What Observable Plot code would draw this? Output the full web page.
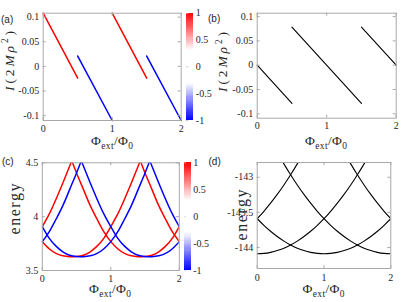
<!DOCTYPE html>
<html><head><meta charset="utf-8">
<script src="https://cdn.jsdelivr.net/npm/d3@7"></script>
<script src="https://cdn.jsdelivr.net/npm/@observablehq/plot@0.6"></script>
<style>
html,body{margin:0;padding:0;background:#fff;overflow:hidden;}
#fig{position:relative;width:415px;height:302px;overflow:hidden;background:#fff;}
#fig svg{position:absolute;left:0;top:0;}
#fig svg text{font-family:'Liberation Serif','DejaVu Serif',serif !important;}
</style></head><body><div id="fig"></div>
<script>
// ---------- data ----------
const fluxTicks = [0, 1, 2];
const currentTicks = [-0.1, -0.05, 0, 0.05, 0.1];
const energyTicksC = [3.5, 4, 4.5];
const energyTicksD = [-144, -143.5, -143];
const parityTicks = [-1, -0.5, 0, 0.5, 1];

// (a) current branches, coloured by parity
const currentA_flux = [[0, 0.5], [0.5, 1], [1, 1.5], [1.5, 2]];
const currentA_I = [[0.108, -0.024], [0.021, -0.11], [0.108, -0.024], [0.021, -0.11]];
const currentA_parity = [1, -1, 1, -1];

// (b) current branches
const currentB_flux = [[0, 0.5], [0.5, 1.5], [1.5, 2]];
const currentB_I = [[0, -0.0785], [0.0785, -0.0785], [0.0785, 0]];

// (c) energy bands, sampled on a flux grid
const fluxGrid = [0, 0.1, 0.2, 0.3, 0.4, 0.5, 0.6, 0.7, 0.8, 0.9, 1.0, 1.1, 1.2, 1.3, 1.4, 1.5, 1.6, 1.7, 1.8, 1.9, 2.0];
const _ = null;
const energyRedM1 = [3.907, 4.023, 4.162, 4.313, 4.470, 4.633, 4.80, _, _, _, _, _, _, _, _, _, _, _, _, _, _];
const energyRed0 = [3.768, 3.702, 3.659, 3.636, 3.628, 3.630, 3.642, 3.674, 3.726, 3.800, 3.907, 4.023, 4.162, 4.313, 4.470, 4.633, 4.80, _, _, _, _];
const energyRed1 = [_, _, 4.90, 4.73, 4.568, 4.406, 4.253, 4.102, 3.976, 3.858, 3.768, 3.702, 3.659, 3.636, 3.628, 3.630, 3.642, 3.674, 3.726, 3.800, 3.907];
const energyRed2 = [_, _, _, _, _, _, _, _, _, _, _, _, 4.90, 4.73, 4.568, 4.406, 4.253, 4.102, 3.976, 3.858, 3.768];
const energyBlueM1 = [3.768, 3.858, 3.976, 4.102, 4.253, 4.406, 4.568, 4.73, 4.90, _, _, _, _, _, _, _, _, _, _, _, _];
const energyBlue0 = [3.907, 3.800, 3.726, 3.674, 3.642, 3.630, 3.628, 3.636, 3.659, 3.702, 3.768, 3.858, 3.976, 4.102, 4.253, 4.406, 4.568, 4.73, 4.90, _, _];
const energyBlue1 = [_, _, _, _, 4.80, 4.633, 4.470, 4.313, 4.162, 4.023, 3.907, 3.800, 3.726, 3.674, 3.642, 3.630, 3.628, 3.636, 3.659, 3.702, 3.768];
const energyBlue2 = [_, _, _, _, _, _, _, _, _, _, _, _, _, _, 4.80, 4.633, 4.470, 4.313, 4.162, 4.023, 3.907];

// (d) energy bands
const energyDM1 = [-143.59, -143.485, -143.37, -143.245, -143.11, -142.965, -142.81, -142.645, _, _, _, _, _, _, _, _, _, _, _, _, _];
const energyD0 = [-144.09, -144.085, -144.07, -144.045, -144.01, -143.965, -143.91, -143.845, -143.77, -143.685, -143.59, -143.485, -143.37, -143.245, -143.11, -142.965, -142.81, -142.645, _, _, _];
const energyD1 = [-143.59, -143.685, -143.77, -143.845, -143.91, -143.965, -144.01, -144.045, -144.07, -144.085, -144.09, -144.085, -144.07, -144.045, -144.01, -143.965, -143.91, -143.845, -143.77, -143.685, -143.59];
const energyD2 = [_, _, _, -142.645, -142.81, -142.965, -143.11, -143.245, -143.37, -143.485, -143.59, -143.685, -143.77, -143.845, -143.91, -143.965, -144.01, -144.045, -144.07, -144.085, -144.09];
const energyD3 = [_, _, _, _, _, _, _, _, _, _, _, _, _, -142.645, -142.81, -142.965, -143.11, -143.245, -143.37, -143.485, -143.59];

// colour map (blue - white - red)
const parityDomain = [-1, -0.3, 0.3, 1];
const parityColors = ["#0000ff", "#ffffff", "#ffffff", "#ff0000"];

// ---------- build tables ----------
const rowsA = currentA_flux.flatMap((fx, i) => fx.map((x, j) => ({x, y: currentA_I[i][j], seg: i, parity: currentA_parity[i]})));
const rowsB = currentB_flux.flatMap((fx, i) => fx.map((x, j) => ({x, y: currentB_I[i][j], seg: i})));
function gridRows(series) {
  return series.flatMap(([name, vals, parity]) =>
    vals.map((y, i) => ({x: fluxGrid[i], y, curve: name, parity})).filter(d => d.y !== null));
}
const rowsCRed = gridRows([["rm1", energyRedM1, 1], ["r0", energyRed0, 1], ["r1", energyRed1, 1], ["r2", energyRed2, 1]]);
const rowsCBlue = gridRows([["bm1", energyBlueM1, -1], ["b0", energyBlue0, -1], ["b1", energyBlue1, -1], ["b2", energyBlue2, -1]]);
const rowsD = gridRows([["dm1", energyDM1, 0], ["d0", energyD0, 0], ["d1", energyD1, 0], ["d2", energyD2, 0], ["d3", energyD3, 0]]);
const cbStops = d3.range(-1, 1, 0.02);

// ---------- layout ----------
const W = 415, H = 302;
const GRAY = "#a8a8a8", INK = "#262626";
const SERIF = "'Liberation Serif', 'DejaVu Serif', serif";
const fmt = d => String(d);
const colorScale = {type: "linear", domain: parityDomain, range: parityColors, interpolate: "rgb"};
const baseStyle = {background: "transparent", fontFamily: SERIF, fontSize: "10px", color: INK, overflow: "visible"};

function panel({frame: [x0, x1, y0, y1], xDomain, yDomain, yTicks, marks, yPad = 4, xPad = 4}) {
  const fw = x1 - x0, fh = y1 - y0;
  return Plot.plot({
    width: W, height: H,
    marginLeft: x0, marginRight: W - x1, marginTop: y0, marginBottom: H - y1,
    x: {domain: xDomain, ticks: fluxTicks, tickFormat: fmt, tickSize: 0, tickPadding: xPad, label: null},
    y: {domain: yDomain, ticks: yTicks, tickFormat: fmt, tickSize: 0, tickPadding: yPad, label: null},
    color: colorScale,
    style: baseStyle,
    marks: [
      ...marks,
      Plot.frame({stroke: GRAY}),
      Plot.tickX(fluxTicks, {x: d => d, stroke: GRAY, insetTop: fh - 3}),
      Plot.tickX(fluxTicks, {x: d => d, stroke: GRAY, insetBottom: fh - 3}),
      Plot.tickY(yTicks, {y: d => d, stroke: GRAY, insetRight: fw - 3}),
      Plot.tickY(yTicks, {y: d => d, stroke: GRAY, insetLeft: fw - 3})
    ]
  });
}

function colorbar([x0, x1, y0, y1]) {
  return Plot.plot({
    width: W, height: H,
    marginLeft: x0, marginRight: W - x1, marginTop: y0, marginBottom: H - y1,
    x: {domain: [0, 1], axis: null},
    y: {domain: [-1, 1], axis: "right", ticks: parityTicks, tickFormat: fmt, tickSize: 0, tickPadding: 2, label: null},
    color: colorScale,
    style: baseStyle,
    marks: [
      Plot.rect(cbStops, {x1: 0, x2: 1, y1: d => d, y2: d => d + 0.02, fill: d => d + 0.01, shapeRendering: "crispEdges"}),
      Plot.tickY(parityTicks, {y: d => d, stroke: "#cccccc", insetRight: 5})
    ]
  });
}

const fig = document.getElementById("fig");

fig.append(panel({
  frame: [42.7, 180.7, 12.7, 120], xDomain: [0, 2], yDomain: [-0.11, 0.108], yTicks: currentTicks,
  marks: [Plot.line(rowsA, {x: "x", y: "y", z: "seg", stroke: "parity", strokeWidth: 1.5})]
}));
fig.append(colorbar([185.7, 193.3, 12.7, 120]));

fig.append(panel({
  frame: [256.7, 395.7, 12.7, 117.7], xDomain: [0, 2], yDomain: [-0.109, 0.107], yTicks: currentTicks,
  marks: [Plot.line(rowsB, {x: "x", y: "y", z: "seg", stroke: "#000", strokeWidth: 1.1})]
}));

fig.append(panel({
  frame: [41.8, 178.8, 162.3, 270], xDomain: [0, 2], yDomain: [3.5, 4.5], yTicks: energyTicksC,
  marks: [
    Plot.line(rowsCRed, {x: "x", y: "y", z: "curve", stroke: "parity", curve: "natural", strokeWidth: 1.5, clip: true}),
    Plot.line(rowsCBlue, {x: "x", y: "y", z: "curve", stroke: "parity", curve: "natural", strokeWidth: 1.5, clip: true})
  ]
}));
fig.append(colorbar([184.3, 190.7, 162.3, 270]));

fig.append(panel({
  frame: [256.7, 390.3, 162, 268], xDomain: [0, 2], yDomain: [-144.3, -142.79], yTicks: energyTicksD, xPad: 5,
  marks: [Plot.line(rowsD, {x: "x", y: "y", z: "curve", stroke: "#000", curve: "natural", strokeWidth: 1.1, clip: true})]
}));

// ---------- labels overlay ----------
const svg = d3.select(fig).append("svg").attr("width", W).attr("height", H);
function label({x, y, rotate = false, size, sans = false, parts, length, anchor = "middle"}) {
  const t = svg.append("text")
    .attr("transform", `translate(${x},${y})` + (rotate ? " rotate(-90)" : ""))
    .attr("text-anchor", anchor).attr("font-size", size).attr("fill", INK);
  if (sans) t.attr("style", "font-family:'Liberation Sans',Arial,sans-serif !important");
  if (length) t.attr("textLength", length).attr("lengthAdjust", "spacing");
  let shift = 0;
  for (const [s, kind] of parts) {
    const ts = t.append("tspan").text(s);
    let target = 0;
    if (kind === "sub") { target = size * 0.28; ts.attr("font-size", size * 0.7); }
    else if (kind === "sup") { target = -size * 0.4; ts.attr("font-size", size * 0.7); }
    else if (kind === "i") ts.attr("font-style", "italic");
    if (target !== shift) { ts.attr("dy", target - shift); shift = target; }
  }
}
const xLabelParts = [["Φ"], ["ext", "sub"], ["/"], ["Φ"], ["0", "sub"]];
const iLabelParts = [["I", "i"], ["(2"], ["Mρ", "i"], ["2", "sup"], [")"]];
const eLabelParts = [["energy"]];

label({x: 112, y: 145, size: 13.5, parts: xLabelParts, length: 42});
label({x: 326, y: 145, size: 13.5, parts: xLabelParts, length: 42});
label({x: 110, y: 293, size: 13.5, parts: xLabelParts, length: 42});
label({x: 323.5, y: 293, size: 13.5, parts: xLabelParts, length: 42});

label({x: 13.5, y: 61, rotate: true, size: 13.5, parts: iLabelParts, length: 60});
label({x: 227, y: 62, rotate: true, size: 13.5, parts: iLabelParts, length: 60});
label({x: 20, y: 209, rotate: true, size: 16, parts: eLabelParts, length: 51});
label({x: 247, y: 215, rotate: true, size: 16, parts: eLabelParts, length: 51});

label({x: 1, y: 22.5, size: 10, sans: true, parts: [["(a)"]], anchor: "start"});
label({x: 208, y: 22, size: 10, sans: true, parts: [["(b)"]], anchor: "start"});
label({x: 2, y: 164.5, size: 10, sans: true, parts: [["(c)"]], anchor: "start"});
label({x: 208.5, y: 164.5, size: 10, sans: true, parts: [["(d)"]], anchor: "start"});
</script></body></html>
